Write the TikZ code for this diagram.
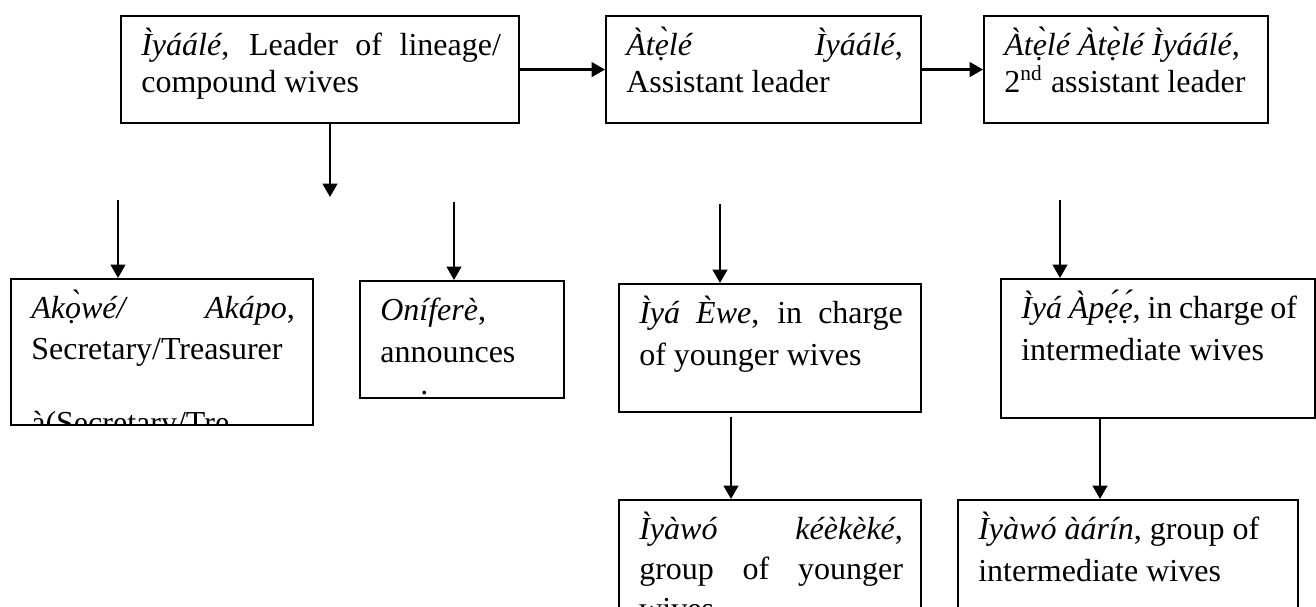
\documentclass[tikz,border=0pt]{standalone}
\usepackage{fontspec}
\setmainfont{Liberation Serif}
\usetikzlibrary{arrows.meta}

\begin{document}
\begin{tikzpicture}[
    x = 0.375pt,
    y = -0.375pt,
    orgbox/.style = {draw=black, line width=0.8pt, anchor=north west, inner sep=0pt},
    orgtext/.style 2 args = {anchor=north west, draw=none, fill=none, align=justify,
        minimum width=0pt, minimum height=0pt,
        inner xsep=7.2pt, inner ysep=3.6pt, text width=#1,
        font=\fontsize{12pt}{#2}\selectfont,
        execute at begin node=\rule{0pt}{10.7pt}},
    arr/.style = {-{Triangle[length=5pt,width=5.5pt]}, line width=0.8pt}]
    \useasboundingbox (0,0) rectangle (1316,607);
    % NODES
    % top row: leader and assistants
    \node[orgbox, minimum width=149.25pt, minimum height=40.125pt,
        path picture={\node[orgtext={134.85pt}{13.8pt}] at (path picture bounding box.north west)
        {\textit{Ìyáálé}, Leader of lineage/\linebreak compound wives};}] (lead) at (120,15) {};
    \node[orgbox, minimum width=118.125pt, minimum height=40.125pt,
        path picture={\node[orgtext={103.7pt}{13.8pt}] at (path picture bounding box.north west)
        {\textit{Àtẹ̀lé Ìyáálé},\linebreak Assistant leader};}] (asst) at (605,15) {};
    \node[orgbox, minimum width=106.5pt, minimum height=40.125pt,
        path picture={\node[orgtext={92.1pt}{13.8pt}] at (path picture bounding box.north west)
        {\textit{Àtẹ̀lé Àtẹ̀lé Ìyáálé},\\ 2\textsuperscript{nd} assistant leader};}] (second) at (983,15) {};
    % middle row
    \node[orgbox, minimum width=113.25pt, minimum height=54.75pt,
        path picture={\node[orgtext={98.85pt}{15.5pt}] at (path picture bounding box.north west)
        {\textit{Akọ̀wé/ Akápo},\linebreak Secretary/Treasurer\\[12.3pt] à(Secretary/Tre};}] (akowe) at (10,278) {};
    \node[orgbox, minimum width=76.5pt, minimum height=43.875pt,
        path picture={\node[orgtext={62.1pt}{16pt}] at (path picture bounding box.north west)
        {\textit{Oníferè},\\ announces\\ \hspace*{15pt}\raisebox{4pt}{.}};}] (onifere) at (359,280) {};
    \node[orgbox, minimum width=113.25pt, minimum height=48pt,
        path picture={\node[orgtext={98.85pt}{16pt}] at (path picture bounding box.north west)
        {\textit{Ìyá Èwe}, in charge\linebreak of younger wives};}] (ewe) at (618,283) {};
    \node[orgbox, minimum width=117.75pt, minimum height=52.125pt,
        path picture={\node[orgtext={103.35pt}{16pt}] at (path picture bounding box.north west)
        {\textit{Ìyá Àpẹ́ẹ́}, in charge of\\ intermediate wives};}] (apee) at (1000,278) {};
    % bottom row
    \node[orgbox, minimum width=113.25pt, minimum height=48.75pt,
        path picture={\node[orgtext={98.85pt}{15pt}] at (path picture bounding box.north west)
        {\textit{Ìyàwó kéèkèké},\linebreak group of younger\linebreak wives};}] (kekere) at (618,499) {};
    \node[orgbox, minimum width=127.5pt, minimum height=48.75pt,
        path picture={\node[orgtext={113.1pt}{16pt}] at (path picture bounding box.north west)
        {\textit{Ìyàwó àárín}, group of\\ intermediate wives};}] (aarin) at (957,499) {};

    % free ends of the arrows
    \coordinate (split) at (330,197);
    \coordinate (akoweIn) at (118,200);
    \coordinate (onifereIn) at (454,202);
    \coordinate (eweIn) at (720,204);
    \coordinate (apeeIn) at (1060,200);
    \coordinate (kekereIn) at (731,417);
    \coordinate (aarinIn) at (1100,417);

    % ARROWS
    \draw[arr] (lead) -- (asst);
    \draw[arr] (asst) -- (second);
    \draw[arr] (lead.south -| split) -- (split);
    \draw[arr] (akoweIn) -- (akoweIn |- akowe.north);
    \draw[arr] (onifereIn) -- (onifereIn |- onifere.north);
    \draw[arr] (eweIn) -- (eweIn |- ewe.north);
    \draw[arr] (apeeIn) -- (apeeIn |- apee.north);
    \draw[arr] (kekereIn) -- (kekereIn |- kekere.north);
    \draw[arr] (aarinIn) -- (aarinIn |- aarin.north);
\end{tikzpicture}
\end{document}
